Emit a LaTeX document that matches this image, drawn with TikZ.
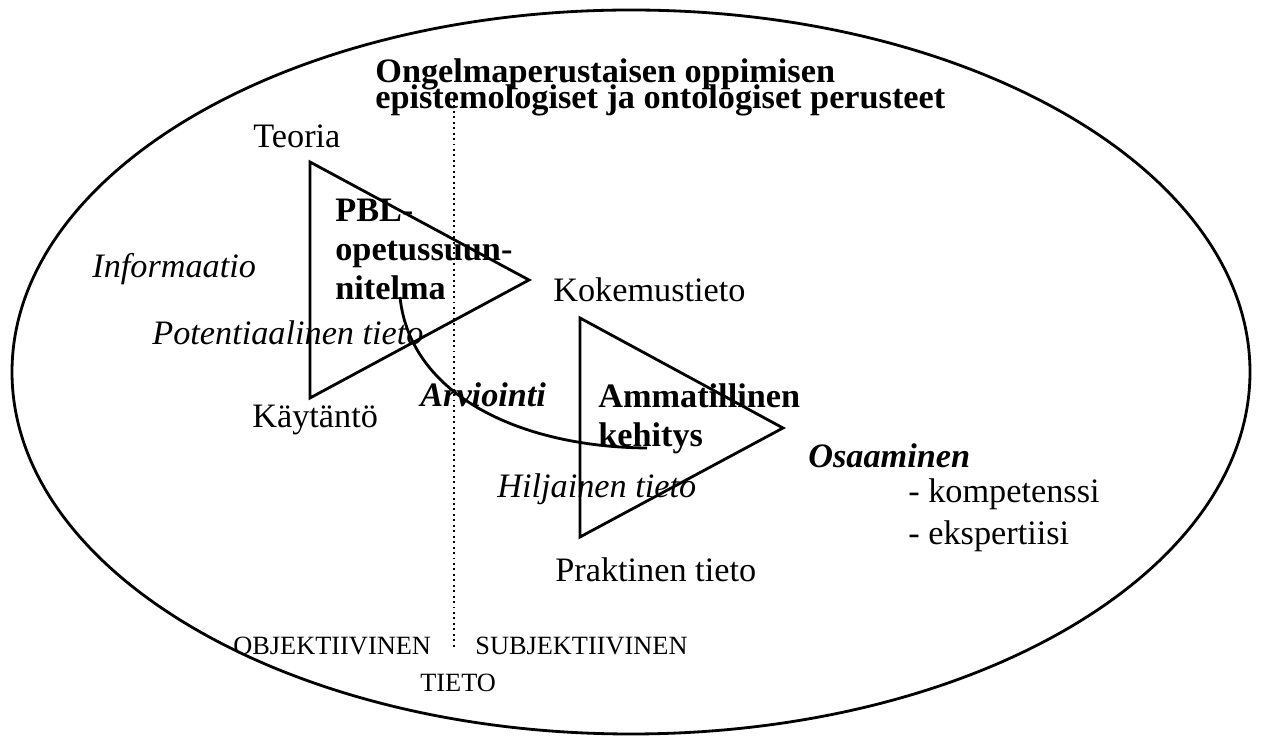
\documentclass[tikz,border=0pt]{standalone}
\usepackage{fontspec}
\setmainfont{Liberation Serif}
\usepackage{tikz}
\usetikzlibrary{arrows.meta,positioning}

\begin{document}
\begin{tikzpicture}[
  x=0.02cm, y=-0.02cm,
  every node/.style={font=\fontsize{19.5}{23}\selectfont, inner sep=0pt, anchor=base west},
  lbl/.style={},
  itlbl/.style={font=\fontsize{19.5}{23}\selectfont\itshape},
  bflbl/.style={font=\fontsize{19.5}{23}\selectfont\bfseries},
  bilbl/.style={font=\fontsize{19.5}{23}\selectfont\bfseries\itshape},
  caplbl/.style={font=\fontsize{15}{18}\selectfont},
  outline/.style={draw=black, line width=1.6pt, line join=miter},
]
\useasboundingbox (0,0) rectangle (1265,742);
% outer ellipse
\draw[outline] (631,372) ellipse [x radius=619, y radius=362];
% dividing line
\coordinate (divtop) at (454,100);
\coordinate (divbot) at (454,647);
\draw[line width=1.1pt, dotted] (divtop) -- (divbot);
% triangles
\coordinate (tA) at (310,162);
\coordinate (tB) at (310,398);
\coordinate (tC) at (529,280);
\draw[outline] (tA) -- (tC) -- (tB) -- cycle;
\coordinate (sA) at (580,318);
\coordinate (sB) at (580,537);
\coordinate (sC) at (783,428);
\draw[outline] (sA) -- (sC) -- (sB) -- cycle;
% evaluation curve
\coordinate (arvA) at (400,297);
\coordinate (arvB) at (647,448);
\draw[outline] (arvA) .. controls (410,395) and (520,447) .. (arvB);
% title
\node[bflbl] (title1) at (375,83) {Ongelmaperustaisen oppimisen};
\node[bflbl] (title2) at (375,109) {epistemologiset ja ontologiset perusteet};
% first triangle
\node[lbl] (teoria) at (253,148) {Teoria};
\node[lbl] (kaytanto) at (252,428) {Käytäntö};
\node[lbl] (kokemus) at (553,302) {Kokemustieto};
\node[bflbl] (pbl1) at (335,222) {PBL-};
\node[bflbl] (pbl2) at (335,261) {opetussuun-};
\node[bflbl] (pbl3) at (335,300) {nitelma};
\node[itlbl] (info) at (92,278) {Informaatio};
\node[itlbl] (potent) at (152,345) {Potentiaalinen tieto};
\node[bilbl] (arvi) at (420,407) {Arviointi};
% second triangle
\node[bflbl] (amm1) at (598,408) {Ammatillinen};
\node[bflbl] (amm2) at (598,447) {kehitys};
\node[itlbl] (hilj) at (497,498) {Hiljainen tieto};
\node[lbl] (prakt) at (555,582) {Praktinen tieto};
\node[bilbl] (osaam) at (808,468) {Osaaminen};
\node[lbl] (komp) at (908,503) {- kompetenssi};
\node[lbl] (eksp) at (908,545) {- ekspertiisi};
% bottom labels
\node[caplbl] (objek) at (233,655) {OBJEKTIIVINEN};
\node[caplbl] (subjek) at (475,655) {SUBJEKTIIVINEN};
\node[caplbl] (tieto) at (420,692) {TIETO};
\end{tikzpicture}
\end{document}
